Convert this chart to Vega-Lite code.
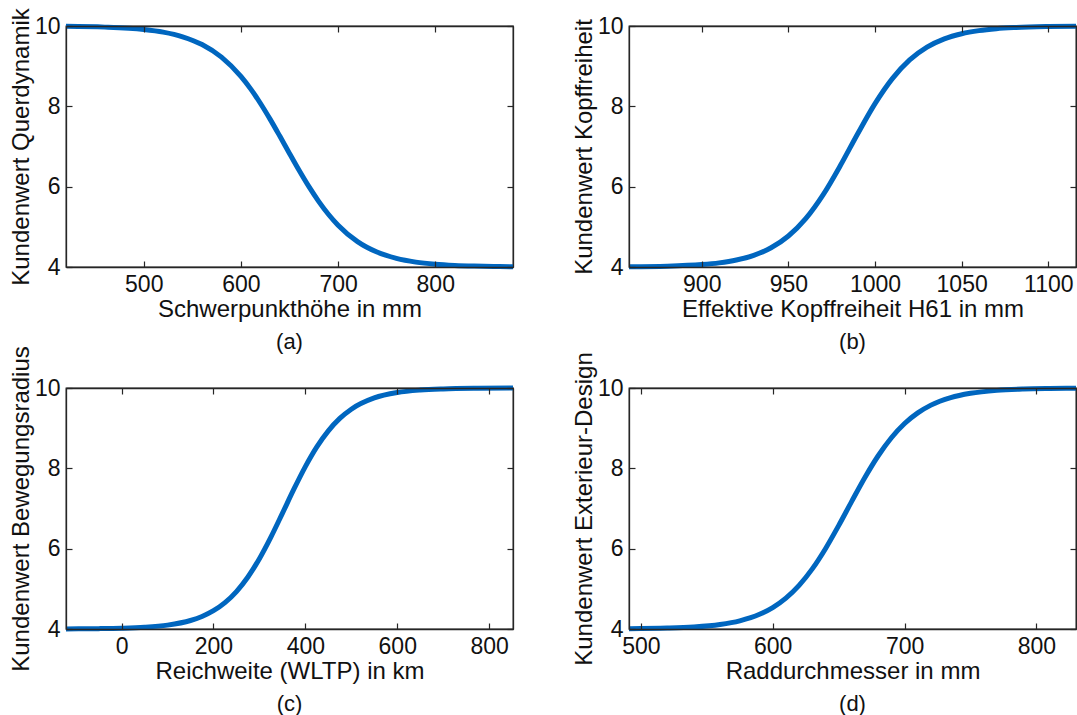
{
  "$schema": "https://vega.github.io/schema/vega-lite/v6.json",
  "padding": {"left": 8, "top": 7, "right": 5, "bottom": 5},
  "datasets": {
    "a": [
      {"x": 420, "y": 9.991}, {"x": 460, "y": 9.972}, {"x": 500, "y": 9.913}, {"x": 520, "y": 9.847},
      {"x": 540, "y": 9.732}, {"x": 560, "y": 9.539}, {"x": 580, "y": 9.225}, {"x": 600, "y": 8.744},
      {"x": 610, "y": 8.434}, {"x": 620, "y": 8.077}, {"x": 630, "y": 7.681}, {"x": 640, "y": 7.259},
      {"x": 650, "y": 6.827}, {"x": 660, "y": 6.401}, {"x": 670, "y": 5.999}, {"x": 680, "y": 5.634},
      {"x": 690, "y": 5.314}, {"x": 700, "y": 5.041}, {"x": 720, "y": 4.632}, {"x": 740, "y": 4.372},
      {"x": 760, "y": 4.215}, {"x": 780, "y": 4.122}, {"x": 800, "y": 4.069}, {"x": 820, "y": 4.039},
      {"x": 840, "y": 4.022}, {"x": 860, "y": 4.012}, {"x": 880, "y": 4.007}
    ],
    "b": [
      {"x": 858, "y": 4.007}, {"x": 880, "y": 4.021}, {"x": 900, "y": 4.061}, {"x": 910, "y": 4.103},
      {"x": 920, "y": 4.174}, {"x": 930, "y": 4.290}, {"x": 940, "y": 4.478}, {"x": 950, "y": 4.771},
      {"x": 960, "y": 5.203}, {"x": 970, "y": 5.795}, {"x": 980, "y": 6.525}, {"x": 990, "y": 7.318},
      {"x": 1000, "y": 8.068}, {"x": 1010, "y": 8.691}, {"x": 1020, "y": 9.155}, {"x": 1030, "y": 9.473},
      {"x": 1040, "y": 9.679}, {"x": 1050, "y": 9.807}, {"x": 1060, "y": 9.885}, {"x": 1070, "y": 9.932},
      {"x": 1080, "y": 9.960}, {"x": 1100, "y": 9.986}, {"x": 1116, "y": 9.994}
    ],
    "c": [
      {"x": -121, "y": 4.003}, {"x": -50, "y": 4.009}, {"x": 0, "y": 4.020}, {"x": 50, "y": 4.044},
      {"x": 100, "y": 4.097}, {"x": 150, "y": 4.212}, {"x": 175, "y": 4.312}, {"x": 200, "y": 4.455},
      {"x": 225, "y": 4.656}, {"x": 250, "y": 4.932}, {"x": 275, "y": 5.295}, {"x": 300, "y": 5.750},
      {"x": 325, "y": 6.288}, {"x": 350, "y": 6.879}, {"x": 375, "y": 7.480}, {"x": 400, "y": 8.043},
      {"x": 425, "y": 8.534}, {"x": 450, "y": 8.934}, {"x": 475, "y": 9.243}, {"x": 500, "y": 9.472},
      {"x": 550, "y": 9.752}, {"x": 600, "y": 9.887}, {"x": 650, "y": 9.949}, {"x": 700, "y": 9.977},
      {"x": 775, "y": 9.993}, {"x": 852, "y": 9.998}
    ],
    "d": [
      {"x": 491, "y": 4.007}, {"x": 520, "y": 4.022}, {"x": 540, "y": 4.050}, {"x": 560, "y": 4.112},
      {"x": 575, "y": 4.204}, {"x": 590, "y": 4.366}, {"x": 600, "y": 4.534}, {"x": 610, "y": 4.768},
      {"x": 620, "y": 5.086}, {"x": 630, "y": 5.496}, {"x": 640, "y": 5.999}, {"x": 650, "y": 6.574},
      {"x": 660, "y": 7.183}, {"x": 670, "y": 7.778}, {"x": 680, "y": 8.313}, {"x": 690, "y": 8.762},
      {"x": 700, "y": 9.116}, {"x": 710, "y": 9.381}, {"x": 720, "y": 9.574}, {"x": 735, "y": 9.761},
      {"x": 750, "y": 9.868}, {"x": 770, "y": 9.941}, {"x": 790, "y": 9.974}, {"x": 810, "y": 9.988},
      {"x": 830, "y": 9.995}
    ]
  },
  "columns": 2,
  "spacing": {"row": 121, "column": 116},
  "bounds": "flush",
  "concat": [
    {
      "width": 447, "height": 241,
      "title": {"text": "(a)", "orient": "bottom", "offset": 11},
      "data": {"name": "a"},
      "layer": [
        {
          "mark": {"type": "line", "color": "#0066BF", "strokeWidth": 5, "interpolate": "monotone"},
          "encoding": {
            "x": {"field": "x", "type": "quantitative", "scale": {"domain": [420, 880], "nice": false, "zero": false}, "axis": {"orient": "bottom", "title": "Schwerpunkthöhe in mm", "values": [500, 600, 700, 800], "format": "d", "tickSize": -6, "zindex": 2}},
            "y": {"field": "y", "type": "quantitative", "scale": {"domain": [4, 10], "nice": false, "zero": false}, "axis": {"orient": "left", "title": "Kundenwert Querdynamik", "values": [4, 6, 8, 10], "tickSize": -6, "zindex": 2}}
          }
        },
        {
          "mark": {"type": "line", "opacity": 0},
          "encoding": {
            "x": {"field": "x", "type": "quantitative", "scale": {"domain": [420, 880], "nice": false, "zero": false}, "axis": {"orient": "top", "title": null, "labels": false, "values": [500, 600, 700, 800], "tickSize": -6, "zindex": 2}},
            "y": {"field": "y", "type": "quantitative", "scale": {"domain": [4, 10], "nice": false, "zero": false}, "axis": {"orient": "right", "title": null, "labels": false, "values": [4, 6, 8, 10], "tickSize": -6, "zindex": 2}}
          }
        }
      ],
      "resolve": {"axis": {"x": "independent", "y": "independent"}}
    },
    {
      "width": 447, "height": 241,
      "title": {"text": "(b)", "orient": "bottom", "offset": 11},
      "data": {"name": "b"},
      "layer": [
        {
          "mark": {"type": "line", "color": "#0066BF", "strokeWidth": 5, "interpolate": "monotone"},
          "encoding": {
            "x": {"field": "x", "type": "quantitative", "scale": {"domain": [858, 1116], "nice": false, "zero": false}, "axis": {"orient": "bottom", "title": "Effektive Kopffreiheit H61 in mm", "values": [900, 950, 1000, 1050, 1100], "format": "d", "tickSize": -6, "zindex": 2}},
            "y": {"field": "y", "type": "quantitative", "scale": {"domain": [4, 10], "nice": false, "zero": false}, "axis": {"orient": "left", "title": "Kundenwert Kopffreiheit", "values": [4, 6, 8, 10], "tickSize": -6, "zindex": 2}}
          }
        },
        {
          "mark": {"type": "line", "opacity": 0},
          "encoding": {
            "x": {"field": "x", "type": "quantitative", "scale": {"domain": [858, 1116], "nice": false, "zero": false}, "axis": {"orient": "top", "title": null, "labels": false, "values": [900, 950, 1000, 1050, 1100], "tickSize": -6, "zindex": 2}},
            "y": {"field": "y", "type": "quantitative", "scale": {"domain": [4, 10], "nice": false, "zero": false}, "axis": {"orient": "right", "title": null, "labels": false, "values": [4, 6, 8, 10], "tickSize": -6, "zindex": 2}}
          }
        }
      ],
      "resolve": {"axis": {"x": "independent", "y": "independent"}}
    },
    {
      "width": 447, "height": 241,
      "title": {"text": "(c)", "orient": "bottom", "offset": 11},
      "data": {"name": "c"},
      "layer": [
        {
          "mark": {"type": "line", "color": "#0066BF", "strokeWidth": 5, "interpolate": "monotone"},
          "encoding": {
            "x": {"field": "x", "type": "quantitative", "scale": {"domain": [-121, 852], "nice": false, "zero": false}, "axis": {"orient": "bottom", "title": "Reichweite (WLTP) in km", "values": [0, 200, 400, 600, 800], "format": "d", "tickSize": -6, "zindex": 2}},
            "y": {"field": "y", "type": "quantitative", "scale": {"domain": [4, 10], "nice": false, "zero": false}, "axis": {"orient": "left", "title": "Kundenwert Bewegungsradius", "values": [4, 6, 8, 10], "tickSize": -6, "zindex": 2}}
          }
        },
        {
          "mark": {"type": "line", "opacity": 0},
          "encoding": {
            "x": {"field": "x", "type": "quantitative", "scale": {"domain": [-121, 852], "nice": false, "zero": false}, "axis": {"orient": "top", "title": null, "labels": false, "values": [0, 200, 400, 600, 800], "tickSize": -6, "zindex": 2}},
            "y": {"field": "y", "type": "quantitative", "scale": {"domain": [4, 10], "nice": false, "zero": false}, "axis": {"orient": "right", "title": null, "labels": false, "values": [4, 6, 8, 10], "tickSize": -6, "zindex": 2}}
          }
        }
      ],
      "resolve": {"axis": {"x": "independent", "y": "independent"}}
    },
    {
      "width": 447, "height": 241,
      "title": {"text": "(d)", "orient": "bottom", "offset": 11},
      "data": {"name": "d"},
      "layer": [
        {
          "mark": {"type": "line", "color": "#0066BF", "strokeWidth": 5, "interpolate": "monotone"},
          "encoding": {
            "x": {"field": "x", "type": "quantitative", "scale": {"domain": [491, 830], "nice": false, "zero": false}, "axis": {"orient": "bottom", "title": "Raddurchmesser in mm", "values": [500, 600, 700, 800], "format": "d", "tickSize": -6, "zindex": 2}},
            "y": {"field": "y", "type": "quantitative", "scale": {"domain": [4, 10], "nice": false, "zero": false}, "axis": {"orient": "left", "title": "Kundenwert Exterieur-Design", "values": [4, 6, 8, 10], "tickSize": -6, "zindex": 2}}
          }
        },
        {
          "mark": {"type": "line", "opacity": 0},
          "encoding": {
            "x": {"field": "x", "type": "quantitative", "scale": {"domain": [491, 830], "nice": false, "zero": false}, "axis": {"orient": "top", "title": null, "labels": false, "values": [500, 600, 700, 800], "tickSize": -6, "zindex": 2}},
            "y": {"field": "y", "type": "quantitative", "scale": {"domain": [4, 10], "nice": false, "zero": false}, "axis": {"orient": "right", "title": null, "labels": false, "values": [4, 6, 8, 10], "tickSize": -6, "zindex": 2}}
          }
        }
      ],
      "resolve": {"axis": {"x": "independent", "y": "independent"}}
    }
  ],
  "config": {
    "font": "Liberation Sans",
    "view": {"stroke": "#262626", "strokeWidth": 1.3},
    "axis": {
      "domainColor": "#262626", "domainWidth": 1.3,
      "tickColor": "#262626", "tickWidth": 1.2, "tickSize": -6,
      "labelPadding": 12, "labelFontSize": 23, "labelColor": "#111111",
      "labelFlush": false, "labelOverlap": false,
      "titleFontSize": 24, "titleFontWeight": "normal", "titleColor": "#111111", "titlePadding": 1,
      "grid": false
    },
    "title": {"fontSize": 22, "fontWeight": "normal", "color": "#111111"}
  }
}
